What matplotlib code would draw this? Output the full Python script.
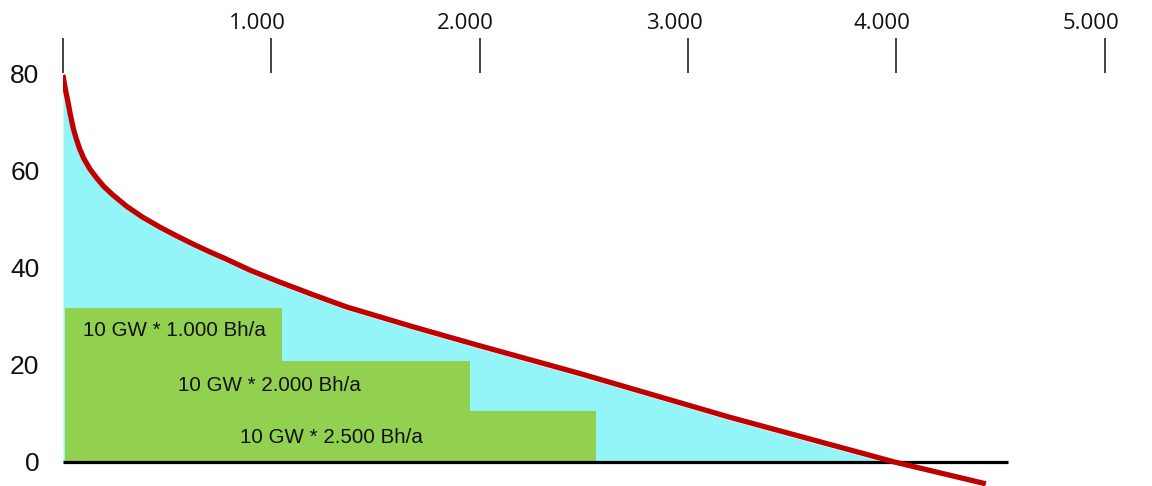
import matplotlib
matplotlib.use("Agg")
import matplotlib.pyplot as plt
import matplotlib.transforms as mtransforms
import numpy as np

# Duration curve (hours -> GW residual load)
hours = [0, 5, 12, 25, 35, 50, 65, 80, 100, 130, 160, 195, 240, 305, 380, 465, 545, 625,
         705, 785, 900, 1040, 1200, 1360, 1680, 2000, 2480, 3200, 3990, 4430]
load = [79.6, 78.2, 76.5, 73.8, 71.5, 68.5, 66.3, 64.4, 62.4, 60.2, 58.5, 56.7, 54.9,
        52.6, 50.4, 48.3, 46.5, 44.8, 43.2, 41.7, 39.4, 37.0, 34.4, 31.9, 27.8, 23.9,
        18.2, 9.2, 0.0, -4.5]

# Green blocks (width in hours, height in GW)
block_ends = [1050, 1955, 2560]
block_tops = [31.7, 20.8, 10.5]
block_labels = ["10 GW * 1.000 Bh/a", "10 GW * 2.000 Bh/a", "10 GW * 2.500 Bh/a"]
label_x = [533, 990, 1290]
label_y = [27.0, 15.8, 5.1]

top_ticks = [0, 1000, 2000, 3000, 4000, 5000]
top_tick_labels = ["", "1.000", "2.000", "3.000", "4.000", "5.000"]
y_ticks = [0, 20, 40, 60, 80]
y_tick_labels = ["0", "20", "40", "60", "80"]

fig = plt.figure(figsize=(11.52, 4.86), dpi=100)
ax = fig.add_axes([63 / 1152, 0.0, 1 - 63 / 1152 - 0.005, 1 - 73 / 486])
ax.set_xlim(0, 5200)
ax.set_ylim(-4.95, 80)

x = np.array(hours, dtype=float)
y = np.array(load, dtype=float)
ax.fill_between(x, y - 0.6, 0, where=y >= 0.6, interpolate=True,
                color="#94f5f9", lw=0, zorder=1)

for end, top in zip(block_ends, block_tops):
    ax.fill_between([10, end], [0, 0], [top, top], color="#92d050", lw=0, zorder=2)

for tx, ty, t in zip(label_x, label_y, block_labels):
    ax.text(tx, ty, t, ha="center", va="center", fontsize=14.8,
            family="Liberation Sans", color="#111111", zorder=3)

ax.plot([0, 4536], [0, 0], color="black", lw=2.3, zorder=4, solid_capstyle="butt")
ax.plot(x, y, color="#c00000", lw=3.8, zorder=5, solid_capstyle="butt",
        solid_joinstyle="round")

for s in ax.spines.values():
    s.set_visible(False)

ax.xaxis.tick_top()
ax.set_xticks(top_ticks)
ax.set_xticklabels(top_tick_labels, family="Open Sans", fontsize=16, color="#111111")
ax.tick_params(axis="x", direction="out", length=25, width=1.3, color="#333333", pad=3)
shift = mtransforms.ScaledTranslation(-14 / 100, 0, fig.dpi_scale_trans)
for lab in ax.get_xticklabels():
    lab.set_transform(lab.get_transform() + shift)

ax.set_yticks(y_ticks)
ax.set_yticklabels(y_tick_labels, family="Liberation Sans", fontsize=19, color="#111111")
ax.tick_params(axis="y", length=0, pad=17)

fig.savefig("out.png", dpi=100)
